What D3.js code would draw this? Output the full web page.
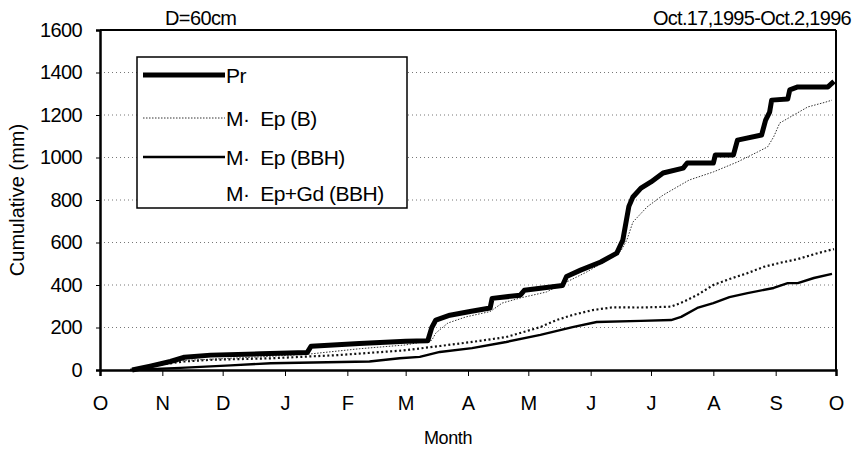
<!DOCTYPE html>
<html>
<head>
<meta charset="utf-8">
<script src="https://cdn.jsdelivr.net/npm/d3@7"></script>
<style>
  body { margin: 0; background: #fff; }
  svg { font-family: "Liberation Sans", Arial, sans-serif; }
  .leg { white-space: pre; }
</style>
</head>
<body>
<div id="wrap"></div>
<script>
// days counted from Oct 1, 1995
const prDays = [16, 25, 35, 42, 55, 80, 103, 105, 129, 152, 163, 165, 167, 174, 184, 194, 195, 209, 211, 230, 232, 239, 249, 257, 260, 263, 265, 269, 274, 280, 290, 292, 305, 306, 315, 317, 329, 331, 333, 334, 342, 343, 347, 362, 365];
const prVals = [0, 18, 40, 60, 70, 76, 82, 112, 125, 135, 138, 200, 235, 258, 275, 292, 337, 352, 375, 398, 440, 470, 508, 550, 612, 770, 814, 856, 885, 927, 950, 974, 974, 1012, 1012, 1082, 1106, 1176, 1214, 1270, 1275, 1318, 1332, 1332, 1358];

const epBDays = [16, 25, 42, 80, 104, 129, 152, 165, 167, 173, 182, 194, 200, 209, 222, 232, 242, 255, 259, 262, 265, 272, 280, 293, 305, 317, 327, 332, 335, 338, 345, 352, 361, 364];
const epBVals = [0, 14, 45, 62, 75, 100, 118, 140, 174, 221, 250, 275, 315, 339, 367, 414, 461, 532, 560, 612, 696, 767, 823, 894, 932, 979, 1026, 1050, 1097, 1162, 1200, 1238, 1261, 1270];

const epBBHDays = [15, 40, 65, 85, 134, 149, 159, 169, 185, 202, 219, 235, 247, 269, 284, 289, 297, 305, 313, 322, 335, 342, 347, 355, 364];
const epBBHVals = [0, 10, 22, 32, 40, 55, 62, 85, 103, 132, 165, 202, 226, 231, 235, 250, 292, 315, 343, 362, 386, 409, 409, 433, 452];

const epGdDays = [15, 25, 42, 55, 85, 118, 151, 169, 185, 202, 219, 227, 235, 245, 255, 269, 284, 290, 297, 305, 313, 322, 330, 338, 347, 357, 365];
const epGdVals = [0, 20, 40, 48, 55, 70, 92, 113, 132, 155, 202, 235, 259, 282, 295, 294, 298, 320, 353, 400, 428, 456, 485, 504, 522, 550, 569];

const monthLabels = ["O", "N", "D", "J", "F", "M", "A", "M", "J", "J", "A", "S", "O"];
const yTicks = [0, 200, 400, 600, 800, 1000, 1200, 1400, 1600];
const legendLabels = ["Pr", "M·  Ep (B)", "M·  Ep (BBH)", "M·  Ep+Gd (BBH)"];

const W = 855, H = 450;
const margin = {top: 30, right: 19, bottom: 80, left: 100};
const width = W - margin.left - margin.right,
      height = H - margin.top - margin.bottom;

const start = new Date(Date.UTC(1995, 9, 1));
const end = new Date(Date.UTC(1996, 9, 1));

let svg = d3.select("#wrap").append("svg")
    .attr("width", W)
    .attr("height", H);

let g = svg.append("g")
    .attr("transform", "translate(" + margin.left + "," + margin.top + ")");

let x = d3.scaleUtc().domain([start, end]).range([0, width]);
let y = d3.scaleLinear().domain([0, 1600]).range([height, 0]);

// gridlines
g.selectAll(".grid")
    .data(yTicks.filter(v => v > 0 && v < 1600))
  .enter().append("line")
    .attr("x1", 0).attr("x2", width)
    .attr("y1", d => y(d)).attr("y2", d => y(d))
    .attr("stroke", "#777")
    .attr("stroke-width", 1)
    .attr("stroke-dasharray", "1,3");

// top + right border
g.append("line").attr("x1", 0).attr("x2", width).attr("y1", 0).attr("y2", 0)
    .attr("stroke", "#000").attr("stroke-width", 2);
g.append("line").attr("x1", width).attr("x2", width).attr("y1", 0).attr("y2", height)
    .attr("stroke", "#000").attr("stroke-width", 2);

function series(days, vals) {
  return days.map((d, i) => ({date: d3.utcDay.offset(start, d), v: vals[i]}));
}
let line = d3.line().x(d => x(d.date)).y(d => y(d.v));

const styles = [
  {data: series(epBBHDays, epBBHVals), w: 2.4, dash: null, color: "#000"},
  {data: series(epGdDays, epGdVals), w: 2.2, dash: "2,2.5", color: "#111"},
  {data: series(epBDays, epBVals), w: 1, dash: "1.5,1.5", color: "#333"},
  {data: series(prDays, prVals), w: 5, dash: null, color: "#000"}
];
styles.forEach(s => {
  g.append("path")
      .datum(s.data)
      .attr("fill", "none")
      .attr("stroke", s.color)
      .attr("stroke-width", s.w)
      .attr("stroke-dasharray", s.dash)
      .attr("stroke-linejoin", "round")
      .attr("d", line);
});

// axes
let months = d3.utcMonth.range(start, d3.utcDay.offset(end, 1));
let xAxis = g.append("g")
    .attr("transform", "translate(0," + height + ")")
    .call(d3.axisBottom(x).tickValues(months).tickFormat((d, i) => monthLabels[i]).tickSize(6).tickPadding(20));
let yAxis = g.append("g")
    .call(d3.axisLeft(y).tickValues(yTicks).tickFormat(d3.format("d")).tickSize(4).tickPadding(14));

[xAxis, yAxis].forEach(a => {
  a.select(".domain").attr("stroke-width", 2.5);
  a.selectAll("text").attr("font-size", 20).attr("font-family", "Liberation Sans, Arial, sans-serif").attr("fill", "#000");
});
yAxis.selectAll("text").attr("letter-spacing", -0.6);

// titles
svg.append("text").attr("x", 165).attr("y", 25).attr("font-size", 20)
    .attr("letter-spacing", -0.6).text("D=60cm");
svg.append("text").attr("x", 851).attr("y", 25).attr("font-size", 20)
    .attr("text-anchor", "end").attr("letter-spacing", -0.7).text("Oct.17,1995-Oct.2,1996");
svg.append("text").attr("x", 448).attr("y", 444).attr("font-size", 18)
    .attr("text-anchor", "middle").attr("letter-spacing", -0.4).text("Month");
svg.append("text")
    .attr("transform", "translate(24," + (margin.top + height / 2) + ") rotate(-90)")
    .attr("font-size", 20).attr("text-anchor", "middle").text("Cumulative (mm)");

// legend
let leg = svg.append("g").attr("transform", "translate(137,57)");
leg.append("rect").attr("width", 270).attr("height", 151)
    .attr("fill", "#fff").attr("stroke", "#000").attr("stroke-width", 1.5);
const legY = [18, 61, 100, 136];
const legStyles = [styles[3], styles[2], styles[0], null];
legendLabels.forEach((lab, i) => {
  let s = legStyles[i];
  if (s) {
    leg.append("line").attr("x1", 6).attr("x2", 88).attr("y1", legY[i]).attr("y2", legY[i])
        .attr("stroke", s.color).attr("stroke-width", s.w).attr("stroke-dasharray", s.dash);
  }
  leg.append("text").attr("class", "leg").attr("x", 89).attr("y", legY[i] + 7.5)
      .attr("font-size", 21).attr("letter-spacing", -0.5).text(lab);
});
</script>
</body>
</html>
